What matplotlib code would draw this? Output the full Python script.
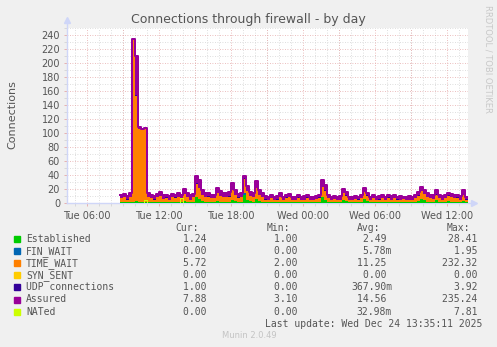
import matplotlib
matplotlib.use("Agg")
from matplotlib import pyplot as plt
from matplotlib.ticker import MultipleLocator, FixedLocator
import numpy as np

W, H = 497, 347

# one sample every 15 minutes, hours counted from Tue 00:00
start_hour = 8.75
step_hours = 0.25

established = [
    2, 2, 1, 2, 2, 3, 2, 2, 2, 2,
    2, 1, 2, 2, 1, 2, 1, 2, 2, 2,
    2, 3, 2, 1, 2, 8, 6, 3, 2, 2,
    2, 2, 3, 2, 2, 2, 2, 5, 3, 2,
    2, 12, 5, 3, 2, 6, 3, 2, 1, 1,
    2, 1, 1, 2, 1, 2, 2, 1, 1, 2,
    1, 1, 2, 1, 1, 2, 2, 8, 5, 2,
    1, 2, 1, 1, 5, 3, 1, 1, 2, 1,
    2, 6, 3, 1, 2, 1, 1, 2, 1, 2,
    1, 2, 1, 1, 2, 1, 1, 1, 2, 3,
    6, 4, 2, 2, 1, 4, 2, 1, 2, 3,
    2, 2, 2, 1, 3, 1,
]
fin_wait = [
    0, 0, 0, 0, 0, 0, 0, 0, 0, 0,
    0, 0, 0, 0, 0, 0, 0, 0, 0, 0,
    0, 0, 0, 0, 0, 1, 0, 0, 0, 0,
    0, 0, 0, 0, 0, 0, 0, 0, 0, 0,
    0, 2, 0, 0, 0, 0, 0, 0, 0, 0,
    0, 0, 0, 0, 0, 0, 0, 0, 0, 0,
    0, 0, 0, 0, 0, 0, 0, 0, 0, 0,
    0, 0, 0, 0, 0, 0, 0, 0, 0, 0,
    0, 0, 0, 0, 0, 0, 0, 0, 0, 0,
    0, 0, 0, 0, 0, 0, 0, 0, 0, 0,
    0, 0, 0, 0, 0, 0, 0, 0, 0, 0,
    0, 0, 0, 0, 0, 0,
]
time_wait = [
    5, 6, 4, 6, 232, 150, 104, 103, 104, 7,
    5, 4, 6, 8, 5, 5, 4, 6, 5, 7,
    5, 10, 6, 4, 6, 18, 15, 9, 6, 7,
    5, 5, 11, 8, 7, 6, 7, 14, 8, 5,
    6, 21, 12, 7, 6, 15, 8, 6, 4, 4,
    5, 3, 4, 6, 4, 5, 6, 4, 3, 5,
    4, 4, 5, 4, 3, 4, 5, 15, 12, 5,
    4, 4, 3, 4, 9, 7, 4, 3, 4, 4,
    5, 10, 7, 4, 5, 3, 4, 5, 4, 5,
    4, 5, 4, 4, 4, 3, 4, 4, 5, 7,
    11, 9, 6, 5, 5, 8, 5, 4, 5, 7,
    6, 5, 5, 4, 8, 4,
]
syn_sent = [
    0, 0, 0, 0, 0, 0, 0, 0, 0, 0,
    0, 0, 0, 0, 0, 0, 0, 0, 0, 0,
    0, 0, 0, 0, 0, 0, 0, 0, 0, 0,
    0, 0, 0, 0, 0, 0, 0, 0, 0, 0,
    0, 0, 0, 0, 0, 0, 0, 0, 0, 0,
    0, 0, 0, 0, 0, 0, 0, 0, 0, 0,
    0, 0, 0, 0, 0, 0, 0, 0, 0, 0,
    0, 0, 0, 0, 0, 0, 0, 0, 0, 0,
    0, 0, 0, 0, 0, 0, 0, 0, 0, 0,
    0, 0, 0, 0, 0, 0, 0, 0, 0, 0,
    0, 0, 0, 0, 0, 0, 0, 0, 0, 0,
    0, 0, 0, 0, 0, 0,
]
udp = [
    0, 0, 1, 0, 0, 1, 0, 0, 1, 0,
    0, 1, 0, 0, 0, 1, 0, 0, 1, 0,
    0, 0, 1, 0, 0, 1, 0, 0, 0, 1,
    0, 0, 1, 0, 0, 0, 1, 0, 0, 1,
    0, 1, 0, 0, 1, 0, 0, 0, 1, 0,
    0, 0, 1, 0, 0, 1, 0, 0, 0, 1,
    0, 0, 1, 0, 0, 0, 1, 0, 1, 0,
    0, 0, 1, 0, 0, 1, 0, 0, 0, 1,
    0, 0, 1, 0, 0, 0, 1, 0, 0, 1,
    0, 0, 1, 0, 0, 1, 0, 0, 0, 1,
    0, 0, 1, 0, 0, 1, 0, 0, 0, 1,
    0, 0, 1, 0, 0, 1,
]
assured = [
    11, 13, 10, 14, 235, 210, 108, 106, 107, 14,
    12, 10, 13, 16, 11, 12, 10, 13, 11, 14,
    12, 20, 14, 11, 13, 38, 33, 18, 14, 15,
    11, 12, 21, 17, 15, 14, 16, 29, 18, 13,
    14, 39, 24, 16, 15, 31, 18, 15, 10, 9,
    11, 8, 10, 14, 9, 12, 13, 9, 8, 12,
    9, 10, 11, 9, 8, 10, 12, 33, 26, 12,
    9, 10, 8, 10, 20, 16, 9, 8, 10, 9,
    12, 21, 15, 9, 11, 8, 10, 12, 9, 11,
    10, 12, 9, 10, 9, 8, 10, 9, 12, 16,
    23, 19, 14, 12, 11, 18, 12, 10, 11, 15,
    13, 11, 12, 10, 18, 9,
]
nated = [
    0, 0, 0, 0, 0, 0, 0, 0, 4, 0,
    0, 0, 0, 0, 0, 0, 0, 0, 0, 0,
    7.81, 0, 0, 0, 0, 0, 0, 0, 0, 0,
    0, 0, 0, 0, 0, 0, 0, 0, 0, 0,
    0, 0, 0, 0, 0, 0, 0, 0, 0, 0,
    0, 0, 0, 0, 0, 0, 0, 0, 0, 0,
    0, 0, 0, 0, 0, 0, 0, 0, 0, 0,
    0, 0, 0, 0, 0, 0, 0, 0, 0, 0,
    0, 0, 0, 0, 0, 0, 0, 0, 0, 0,
    0, 0, 0, 0, 0, 0, 0, 0, 0, 0,
    0, 0, 0, 0, 0, 0, 0, 0, 0, 0,
    0, 0, 0, 0, 0, 0,
]

x_ticks = [6, 12, 18, 24, 30, 36]
x_labels = ["Tue 06:00", "Tue 12:00", "Tue 18:00", "Wed 00:00", "Wed 06:00", "Wed 12:00"]

legend_names = ["Established", "FIN_WAIT", "TIME_WAIT", "SYN_SENT",
                "UDP connections", "Assured", "NATed"]
legend_colors = ["#00CC00", "#0066B3", "#FF8000", "#FFCC00",
                 "#330099", "#990099", "#CCFF00"]
cur_vals = ["1.24", "0.00", "5.72", "0.00", "1.00", "7.88", "0.00"]
min_vals = ["1.00", "0.00", "2.00", "0.00", "0.00", "3.10", "0.00"]
avg_vals = ["2.49", "5.78m", "11.25", "0.00", "367.90m", "14.56", "32.98m"]
max_vals = ["28.41", "1.95", "232.32", "0.00", "3.92", "235.24", "7.81"]

TXT = "#555555"
BG = "#F0F0F0"

fig = plt.figure(figsize=(W / 100, H / 100), dpi=100, facecolor=BG)
L, R, T, B = 67, 468, 28, 203
ax = fig.add_axes([L / W, 1 - B / H, (R - L) / W, (B - T) / H])
ax.set_facecolor("white")

t = start_hour + step_hours * np.arange(len(assured))
t_edges = np.append(t, t[-1] + step_hours)


def stepped(v):
    v = np.asarray(v, dtype=float)
    return np.append(v, v[-1])


# stacked areas, munin style
stack = [established, fin_wait, time_wait, syn_sent, udp]
base = np.zeros(len(t))
for vals, col in zip(stack, legend_colors[:5]):
    top = base + np.asarray(vals, dtype=float)
    ax.fill_between(t_edges, stepped(base), stepped(top), step="post",
                    color=col, lw=0, zorder=3)
    base = top

# assured line (the jagged LINE2 reads as a band above the stack)
asr = np.asarray(assured, dtype=float)
ax.fill_between(t_edges, stepped(base), stepped(np.maximum(asr, base)), step="post",
                color="#990099", lw=0, zorder=4)
ax.step(t_edges, stepped(asr), where="post", color="#990099", lw=1.44, zorder=5)
ax.step(t_edges, stepped(nated), where="post", color="#CCFF00", lw=0.72, zorder=6)

ax.set_xlim(6 - 20 / 12, 36 + 21 / 12)
ax.set_ylim(0, 250)

# grid
ax.xaxis.set_major_locator(FixedLocator(x_ticks))
ax.set_xticklabels(x_labels)
ax.xaxis.set_minor_locator(MultipleLocator(1))
ax.yaxis.set_major_locator(MultipleLocator(20))
ax.yaxis.set_minor_locator(MultipleLocator(10))
dot = (0, (1, 2))
for h in np.arange(6, 38, 3):
    ax.axvline(h, color="#E5A8A8", lw=0.6, ls=dot, zorder=1)
ax.grid(which="minor", color="#D4D4D4", lw=0.6, ls=dot, zorder=0)
ax.grid(which="major", axis="y", color="#E5A8A8", lw=0.6, ls=dot, zorder=1)
ax.set_axisbelow(True)

ax.tick_params(which="both", length=2, width=0.6, color="#E5A8A8",
               labelsize=7, labelcolor=TXT, pad=3)
ax.tick_params(which="minor", color="#D4D4D4")
ax.tick_params(axis="x", pad=4)

for s in ax.spines.values():
    s.set_visible(False)
axis_col = "#CFD6F8"
ax.plot([0, 0], [0, 1 + 6 / 175], color=axis_col, lw=1, transform=ax.transAxes,
        clip_on=False, zorder=2)
ax.plot([0, 1 + 4 / 401], [0, 0], color=axis_col, lw=1, transform=ax.transAxes,
        clip_on=False, zorder=2)
ax.plot(0, 1 + 8 / 175, marker="^", ms=5, color=axis_col, transform=ax.transAxes,
        clip_on=False)
ax.plot(1 + 6 / 401, 0, marker=">", ms=5, color=axis_col, transform=ax.transAxes,
        clip_on=False)


def px(x, y):
    return x / W, 1 - y / H


fig.text(*px(12, 115), "Connections", rotation=90, ha="center", va="center",
         fontsize=8, color=TXT)
fig.text(*px(248, 20), "Connections through firewall - by day",
         ha="center", va="center", fontsize=9, color=TXT)
fig.text(*px(488, 5), "RRDTOOL / TOBI OETIKER", rotation=270,
         ha="center", va="top", fontsize=6, color="#C8C8C8")

# legend table
mono = dict(family="DejaVu Sans Mono", fontsize=7, color=TXT, va="center")
for label, xr in zip(["Cur:", "Min:", "Avg:", "Max:"], [199, 290, 380, 470]):
    fig.text(*px(xr, 228), label, ha="right", **mono)

for k, name in enumerate(legend_names):
    y = 239 + 12.1 * k
    fig.patches.append(plt.Rectangle(px(14, y + 3), 6 / W, 6 / H,
                                     transform=fig.transFigure,
                                     color=legend_colors[k], figure=fig))
    fig.text(*px(26, y), name, ha="left", **mono)
    for col, xr in zip([cur_vals, min_vals, avg_vals, max_vals], [212, 303, 392, 483]):
        s = col[k]
        s = s if s.endswith("m") else s + " "
        fig.text(*px(xr, y), s, ha="right", **mono)

fig.text(*px(482, 324), "Last update: Wed Dec 24 13:35:11 2025", ha="right", **mono)
fig.text(*px(249, 336), "Munin 2.0.49", ha="center", va="center",
         fontsize=6, color="#C4C4C4")

fig.savefig("out.png", dpi=100, facecolor=BG)
